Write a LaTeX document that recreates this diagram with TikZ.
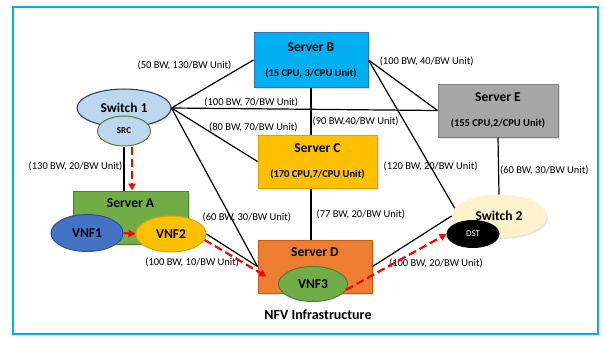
\documentclass[tikz,border=0pt]{standalone}
\usepackage{fontspec}
\setmainfont{Carlito}
\usetikzlibrary{shapes.geometric,arrows.meta,shadows}

\definecolor{frameblue}{HTML}{00B0F0}
\definecolor{bfill}{HTML}{00B0F0}
\definecolor{bline}{HTML}{2E75B6}
\definecolor{efill}{HTML}{A6A6A6}
\definecolor{eline}{HTML}{808080}
\definecolor{cfill}{HTML}{FFC000}
\definecolor{cline}{HTML}{D9A300}
\definecolor{dfill}{HTML}{ED7D31}
\definecolor{dline}{HTML}{C55A11}
\definecolor{gfill}{HTML}{70AD47}
\definecolor{gline}{HTML}{507E32}
\definecolor{vfill}{HTML}{4472C4}
\definecolor{vline}{HTML}{2F528F}
\definecolor{swfill}{HTML}{BDD7EE}
\definecolor{swline}{HTML}{1F3864}
\definecolor{srcline}{HTML}{548235}
\definecolor{cream}{HTML}{FFF2CC}

\newcommand\lblfont{\fontsize{10.5}{12}\selectfont}
\newcommand\cpufont{\fontsize{10.5}{13}\selectfont\bfseries}
\newcommand\namefont{\fontsize{13.5}{13}\selectfont\bfseries}
\newcommand\tinyfont{\fontsize{9}{10}\selectfont}

\begin{document}
\begin{tikzpicture}[x=1pt,y=-1pt,line width=1.2pt,
  box/.style={draw,rectangle,line width=1pt,align=center,font=\cpufont,
    drop shadow={opacity=0.25,shadow xshift=2pt,shadow yshift=-2pt}},
  oval/.style={draw,ellipse,inner sep=0pt,line width=1pt},
  lbl/.style={font=\lblfont,inner sep=1pt},
  flow/.style={draw=red,line width=2.2pt,dash pattern=on 8pt off 4pt,
    -{Triangle[length=7pt,width=7pt]}}]

\useasboundingbox (0,0) rectangle (605,337);
\draw[frameblue,line width=1.5pt] (13,7) rectangle (598,334);

\node[box,fill=bfill,draw=bline,minimum width=114pt,minimum height=54pt](sb) at (311,60)
  {{\namefont Server B}\\[12pt](15 CPU, 3/CPU Unit)};
\node[box,fill=efill,draw=eline,minimum width=120pt,minimum height=53pt](se) at (498,110.5)
  {{\namefont Server E}\\[12pt](155 CPU,2/CPU Unit)};
\node[box,fill=cfill,draw=cline,minimum width=119pt,minimum height=53pt](sc) at (317.5,161.5)
  {{\namefont Server C}\\[12pt](170 CPU,7/CPU Unit)};
\node[box,fill=dfill,draw=dline,minimum width=114pt,minimum height=53pt](sd) at (315,266.5){};
\node[font=\namefont](sdname) at ([yshift=-13pt]sd.north){Server D};
\node[box,fill=gfill,draw=gline,minimum width=115pt,minimum height=53pt](sa) at (130.5,217.5){};
\node[font=\namefont](saname) at ([yshift=-13pt]sa.north){Server A};

\node[oval,fill=swfill,draw=swline,minimum width=94pt,minimum height=38pt,font=\namefont,
  drop shadow={opacity=0.2,shadow xshift=2pt,shadow yshift=-2pt}](s1) at (124,108){Switch 1};
\node[oval,fill=swfill,draw=srcline,minimum width=53pt,minimum height=30pt,font=\tinyfont\bfseries](src) at (124,131){SRC};
\node[oval,fill=cream,draw=cream,minimum width=94pt,minimum height=42pt,font=\namefont,
  drop shadow={opacity=0.2,shadow xshift=2pt,shadow yshift=-2pt}](s2) at (499,216){Switch 2};
\node[oval,fill=black,minimum width=52pt,minimum height=27pt,font=\tinyfont,text=white](dst) at (473,234){DST};

\node[oval,fill=vfill,draw=vline,minimum width=72pt,minimum height=37pt,font=\namefont](vnf1) at (87,233){VNF1};
\node[oval,fill=cfill,draw=cline,minimum width=70pt,minimum height=36pt,font=\namefont](vnf2) at (171,234){VNF2};
\node[oval,fill=gfill,draw=gline,minimum width=69pt,minimum height=35pt,font=\namefont](vnf3) at (313,284){VNF3};

\node[font=\fontsize{14}{16}\selectfont\bfseries](nfv) at (318,315){NFV Infrastructure};

\path (s1.east) edge node[lbl,pos=0.75,anchor=south east]{(50 BW, 130/BW Unit)} (sb.west)
	(s1.east) edge node[lbl,pos=0.3,above]{(100 BW, 70/BW Unit)} (se.west)
	(s1.east) edge node[lbl,pos=0.42,anchor=west,yshift=3pt]{(80 BW, 70/BW Unit)} (sc.west)
	(s1.east) edge node[lbl,pos=0.69,xshift=16pt]{(60 BW, 30/BW Unit)} (sd.west)
	(vnf2.east) edge node[lbl,pos=0.67,anchor=north east]{(100 BW, 10/BW Unit)} (sd.west)
	(src.south) edge node[lbl,pos=0.45,left]{(130 BW, 20/BW Unit)} (src.south |- sa.north)
	(sb.south) edge node[lbl,pos=0.73,right]{(90 BW,40/BW Unit)} (sb.south |- sc.north)
	(sb.east) edge node[lbl,pos=0.14,anchor=south west]{(100 BW, 40/BW Unit)} (se.west)
	(sb.east) edge node[lbl,pos=0.72]{(120 BW, 20/BW Unit)} (s2.170)
	(se.south) edge node[lbl,pos=0.57,right]{(60 BW, 30/BW Unit)} (s2.north)
	(sc.south -| sb.south) edge node[lbl,right=4pt]{(77 BW, 20/BW Unit)} (sd.north -| sb.south)
	(sd.east) edge node[lbl,pos=0.19,anchor=north west]{(100 BW, 20/BW Unit)} (s2.west);

% service chain
\draw[flow] ([xshift=8pt]src.south) -- ([xshift=8pt]src.south |- sa.north);
\draw[flow] (vnf1.east) -- (vnf2.west);
\draw[flow] (vnf2.-10) -- ([xshift=9pt,yshift=-10pt]sd.west);
\draw[flow] (vnf3.-10) -- (dst.west);

\end{tikzpicture}
\end{document}
